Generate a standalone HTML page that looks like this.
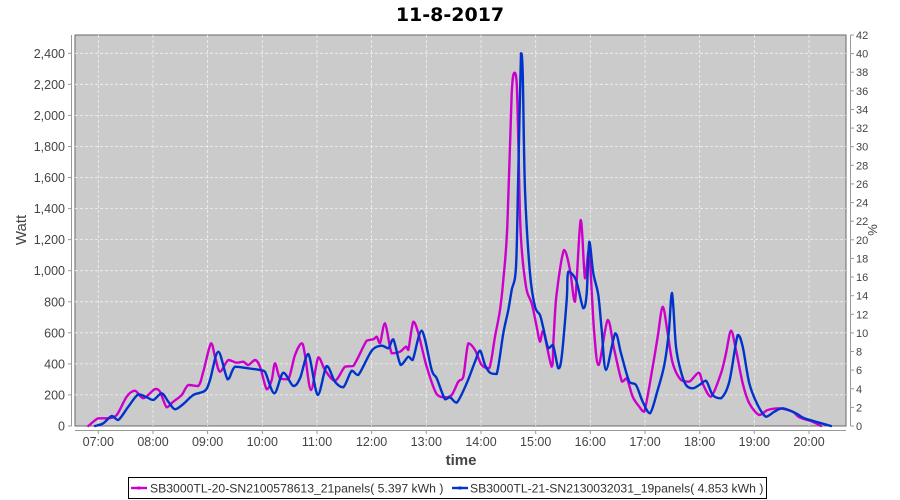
<!DOCTYPE html>
<html><head><meta charset="utf-8"><style>
html,body{margin:0;padding:0;background:#fff;}
svg{display:block;}
text{font-family:"Liberation Sans",sans-serif;}
</style></head><body>
<svg id="c" width="900" height="500" viewBox="0 0 900 500" xmlns="http://www.w3.org/2000/svg">
<rect x="0" y="0" width="900" height="500" fill="#fff"/>
<text x="450" y="21" text-anchor="middle" style="font-family:'DejaVu Sans',sans-serif;font-weight:bold;font-size:19px" fill="#000">11-8-2017</text>
<rect x="75" y="35" width="771" height="391" fill="#cbcbcb" stroke="#6a6a6a" stroke-width="1"/>
<g stroke="#f2f2f2" stroke-width="0.8" stroke-dasharray="3,2" fill="none">
<line x1="75" y1="394.9" x2="846" y2="394.9"/><line x1="75" y1="363.9" x2="846" y2="363.9"/><line x1="75" y1="332.8" x2="846" y2="332.8"/><line x1="75" y1="301.8" x2="846" y2="301.8"/><line x1="75" y1="270.7" x2="846" y2="270.7"/><line x1="75" y1="239.6" x2="846" y2="239.6"/><line x1="75" y1="208.6" x2="846" y2="208.6"/><line x1="75" y1="177.5" x2="846" y2="177.5"/><line x1="75" y1="146.5" x2="846" y2="146.5"/><line x1="75" y1="115.4" x2="846" y2="115.4"/><line x1="75" y1="84.3" x2="846" y2="84.3"/><line x1="75" y1="53.3" x2="846" y2="53.3"/>
<line x1="98.3" y1="35" x2="98.3" y2="426"/><line x1="153" y1="35" x2="153" y2="426"/><line x1="207.6" y1="35" x2="207.6" y2="426"/><line x1="262.3" y1="35" x2="262.3" y2="426"/><line x1="317" y1="35" x2="317" y2="426"/><line x1="371.6" y1="35" x2="371.6" y2="426"/><line x1="426.3" y1="35" x2="426.3" y2="426"/><line x1="481" y1="35" x2="481" y2="426"/><line x1="535.7" y1="35" x2="535.7" y2="426"/><line x1="590.3" y1="35" x2="590.3" y2="426"/><line x1="645" y1="35" x2="645" y2="426"/><line x1="699.7" y1="35" x2="699.7" y2="426"/><line x1="754.3" y1="35" x2="754.3" y2="426"/><line x1="809" y1="35" x2="809" y2="426"/>
</g>
<g stroke="#999" stroke-width="1" fill="none">
<line x1="71.5" y1="35" x2="71.5" y2="426"/>
<line x1="850.5" y1="35" x2="850.5" y2="426"/>
<line x1="75" y1="430.5" x2="846" y2="430.5"/>
</g>
<g stroke="#999" stroke-width="1">
<line x1="68" y1="426" x2="71.5" y2="426"/><line x1="68" y1="394.9" x2="71.5" y2="394.9"/><line x1="68" y1="363.9" x2="71.5" y2="363.9"/><line x1="68" y1="332.8" x2="71.5" y2="332.8"/><line x1="68" y1="301.8" x2="71.5" y2="301.8"/><line x1="68" y1="270.7" x2="71.5" y2="270.7"/><line x1="68" y1="239.6" x2="71.5" y2="239.6"/><line x1="68" y1="208.6" x2="71.5" y2="208.6"/><line x1="68" y1="177.5" x2="71.5" y2="177.5"/><line x1="68" y1="146.5" x2="71.5" y2="146.5"/><line x1="68" y1="115.4" x2="71.5" y2="115.4"/><line x1="68" y1="84.3" x2="71.5" y2="84.3"/><line x1="68" y1="53.3" x2="71.5" y2="53.3"/>
<line x1="98.3" y1="430.5" x2="98.3" y2="434"/><line x1="153" y1="430.5" x2="153" y2="434"/><line x1="207.6" y1="430.5" x2="207.6" y2="434"/><line x1="262.3" y1="430.5" x2="262.3" y2="434"/><line x1="317" y1="430.5" x2="317" y2="434"/><line x1="371.6" y1="430.5" x2="371.6" y2="434"/><line x1="426.3" y1="430.5" x2="426.3" y2="434"/><line x1="481" y1="430.5" x2="481" y2="434"/><line x1="535.7" y1="430.5" x2="535.7" y2="434"/><line x1="590.3" y1="430.5" x2="590.3" y2="434"/><line x1="645" y1="430.5" x2="645" y2="434"/><line x1="699.7" y1="430.5" x2="699.7" y2="434"/><line x1="754.3" y1="430.5" x2="754.3" y2="434"/><line x1="809" y1="430.5" x2="809" y2="434"/>
</g>
<g stroke="#999" stroke-width="1">
<line x1="850.5" y1="426" x2="854" y2="426"/><line x1="850.5" y1="407.4" x2="854" y2="407.4"/><line x1="850.5" y1="388.8" x2="854" y2="388.8"/><line x1="850.5" y1="370.1" x2="854" y2="370.1"/><line x1="850.5" y1="351.5" x2="854" y2="351.5"/><line x1="850.5" y1="332.9" x2="854" y2="332.9"/><line x1="850.5" y1="314.3" x2="854" y2="314.3"/><line x1="850.5" y1="295.7" x2="854" y2="295.7"/><line x1="850.5" y1="277.0" x2="854" y2="277.0"/><line x1="850.5" y1="258.4" x2="854" y2="258.4"/><line x1="850.5" y1="239.8" x2="854" y2="239.8"/><line x1="850.5" y1="221.2" x2="854" y2="221.2"/><line x1="850.5" y1="202.6" x2="854" y2="202.6"/><line x1="850.5" y1="183.9" x2="854" y2="183.9"/><line x1="850.5" y1="165.3" x2="854" y2="165.3"/><line x1="850.5" y1="146.7" x2="854" y2="146.7"/><line x1="850.5" y1="128.1" x2="854" y2="128.1"/><line x1="850.5" y1="109.5" x2="854" y2="109.5"/><line x1="850.5" y1="90.8" x2="854" y2="90.8"/><line x1="850.5" y1="72.2" x2="854" y2="72.2"/><line x1="850.5" y1="53.6" x2="854" y2="53.6"/><line x1="850.5" y1="35" x2="854" y2="35"/>
</g>
<g font-size="12.5" fill="#444" text-anchor="end">
<text x="65" y="430.5">0</text><text x="65" y="399.4">200</text><text x="65" y="368.4">400</text><text x="65" y="337.3">600</text><text x="65" y="306.3">800</text><text x="65" y="275.2">1,000</text><text x="65" y="244.1">1,200</text><text x="65" y="213.1">1,400</text><text x="65" y="182">1,600</text><text x="65" y="151">1,800</text><text x="65" y="119.9">2,000</text><text x="65" y="88.8">2,200</text><text x="65" y="57.8">2,400</text>
</g>
<g font-size="11" fill="#444" text-anchor="start">
<text x="856" y="430">0</text><text x="856" y="411.4">2</text><text x="856" y="392.8">4</text><text x="856" y="374.1">6</text><text x="856" y="355.5">8</text><text x="856" y="336.9">10</text><text x="856" y="318.3">12</text><text x="856" y="299.7">14</text><text x="856" y="281">16</text><text x="856" y="262.4">18</text><text x="856" y="243.8">20</text><text x="856" y="225.2">22</text><text x="856" y="206.6">24</text><text x="856" y="187.9">26</text><text x="856" y="169.3">28</text><text x="856" y="150.7">30</text><text x="856" y="132.1">32</text><text x="856" y="113.5">34</text><text x="856" y="94.8">36</text><text x="856" y="76.2">38</text><text x="856" y="57.6">40</text><text x="856" y="39">42</text>
</g>
<g font-size="12.5" fill="#444" text-anchor="middle">
<text x="98.3" y="446">07:00</text><text x="153" y="446">08:00</text><text x="207.6" y="446">09:00</text><text x="262.3" y="446">10:00</text><text x="317" y="446">11:00</text><text x="371.6" y="446">12:00</text><text x="426.3" y="446">13:00</text><text x="481" y="446">14:00</text><text x="535.7" y="446">15:00</text><text x="590.3" y="446">16:00</text><text x="645" y="446">17:00</text><text x="699.7" y="446">18:00</text><text x="754.3" y="446">19:00</text><text x="809" y="446">20:00</text>
</g>
<text x="461" y="465" text-anchor="middle" font-size="15" font-weight="bold" fill="#444">time</text>
<text transform="translate(26,230) rotate(-90)" text-anchor="middle" font-size="15" fill="#444">Watt</text>
<text transform="translate(877,230) rotate(-90)" text-anchor="middle" font-size="13" fill="#444">%</text>
<polyline class="s" fill="none" stroke="#cc00cc" stroke-width="2.4" stroke-linejoin="round" stroke-linecap="round" points="88.3,426 98.3,418.3 108.3,418.3 116.7,415 126.7,396.7 135,390.7 143.3,398.3 155,389 160,391.7 166.7,407.3 173.3,401.7 181.7,395 188.3,385 198.3,386 203.3,371.7 211,343.3 215,356.7 220,371.7 228.3,360 236.7,362.7 243.3,361.7 248.3,365 255,360 260,366.7 266.7,389.3 271.7,380 275,363.3 280,378.3 288.3,379.3 295,355 301.7,343.3 305,355 311,390 318.3,357.3 325,370 335,380.7 345,366.7 353.3,366 366.7,340.7 373.3,339.3 376.7,336.7 380,343.3 385,323.3 391.7,353.3 400,351.7 406,346.7 408.3,350 413.3,321.7 418.3,333.3 426.7,366.7 436.7,394.3 445,397.3 451.7,395 458.3,381.7 463.3,376.7 468.3,343.3 475,350 481.7,365 489.3,368.3 495,336.7 500,310 503.3,280 507.3,226.7 511.7,93.3 514.3,72.7 516.7,83.3 518.3,140 520.7,233.3 526,286.7 531.7,303.3 536.7,326.7 540,341.7 543.3,330.7 551.7,366.7 553.5,340 556.5,295 564,250 570,270 575,301.7 580.7,220 585,278.3 589,250 594,330 598.7,365 607.7,320 614.3,350 622,381.7 626.7,378.3 632.7,396.7 639.3,406.7 644.3,411.7 652.7,366.7 657.7,336.7 662.7,306.7 667.7,333.3 672.7,363.3 681,380 689.3,381.7 698.7,372.7 703.3,385 711,396.7 721,373.3 726,353.3 731,330.7 736,350 742.7,383.3 749.3,403.3 759.3,415 767.7,410 779.3,408.3 792.7,411.7 799.3,417.3 812.7,421.7 821,426"/>
<polyline class="s" fill="none" stroke="#0033cc" stroke-width="2.4" stroke-linejoin="round" stroke-linecap="round" points="95,426 103.3,423.3 111.7,416 118.3,420 128.3,406.7 138.3,394.3 146.7,397.3 153.3,400 161.7,393.3 168.3,401.7 175,409.3 183.3,404 193.3,395 205,390.7 210,380 218.3,351.7 227.7,379.3 235,366.7 248.3,368.3 260,370 265,371.7 274.3,393.3 283.3,372.7 293.3,386 300,378.3 308.3,354 317.7,395 326.7,366 335,381.7 343.3,387.3 351.7,370.7 358.3,375 371.7,350.7 381.7,345.7 388.3,348.3 393.3,339.3 400.7,365 408.3,356.7 412.7,360 421.7,330.7 431.7,370 436.7,378.3 445,399.3 450,397.3 456.7,402.7 466.7,383.3 475,361.7 480,350.7 485,365 490,372.7 496.7,374 503.3,333.3 508.3,310 511.7,290 516,266.7 518.3,173.3 521,53.3 522.7,73.3 525,190 530,273.3 535,306.7 540,315 543.3,328 548.3,348.3 553,345 558.3,368.3 561.7,356.7 566.7,300 568.3,271.7 576,280 583.3,308.3 586.7,293.3 589.3,241.7 593.3,273.3 598.3,295 601.7,330 606,370 615.3,333.3 621,353.3 629.3,381.7 636,385 642.7,401.7 650,413.3 657.7,390 664.3,365 668.7,333.3 672,293 676,346.7 681,371.7 686,385 692.7,388.3 699.3,385 706,380.7 712.7,395 721,398.3 729.3,381.7 737.7,335 742.7,346.7 749.3,383.3 757.7,405 766,416.7 774.3,411.7 782.7,408.3 796,413.3 804.3,418.3 819.3,422.7 831,426"/>
<rect x="128.5" y="477.5" width="638" height="21" fill="#fff" stroke="#000" stroke-width="1"/>
<line x1="131" y1="488" x2="147" y2="488" stroke="#cc00cc" stroke-width="2.4"/>
<rect x="137.5" y="486.5" width="3" height="3" fill="#cc00cc"/>
<text x="150" y="492.5" font-size="12.2" fill="#333">SB3000TL-20-SN2100578613_21panels( 5.397 kWh )</text>
<line x1="452" y1="488" x2="468" y2="488" stroke="#0033cc" stroke-width="2.4"/>
<rect x="458.5" y="486.5" width="3" height="3" fill="#0033cc"/>
<text x="470" y="492.5" font-size="12.2" fill="#333">SB3000TL-21-SN2130032031_19panels( 4.853 kWh )</text>
</svg>
<script>
(function(){
try{
var ns="http://www.w3.org/2000/svg";
var pls=document.querySelectorAll("polyline.s");
for(var k=0;k<pls.length;k++){
var pl=pls[k];
var pts=pl.getAttribute("points").trim().split(/\s+/).map(function(s){var a=s.split(",");return [parseFloat(a[0]),parseFloat(a[1])];});
var d="M"+pts[0][0]+","+pts[0][1];
for(var i=0;i<pts.length-1;i++){
var p0=pts[i>0?i-1:i],p1=pts[i],p2=pts[i+1],p3=pts[i+2<pts.length?i+2:i+1];
var t=0.16;
var c1x=p1[0]+(p2[0]-p0[0])*t,c1y=p1[1]+(p2[1]-p0[1])*t;
var c2x=p2[0]-(p3[0]-p1[0])*t,c2y=p2[1]-(p3[1]-p1[1])*t;
if(c1x>p2[0])c1x=p2[0];if(c2x<p1[0])c2x=p1[0];
var lo=Math.min(p1[1],p2[1]),hi=Math.max(p1[1],p2[1]);
c1y=Math.min(Math.max(c1y,lo),hi);c2y=Math.min(Math.max(c2y,lo),hi);
d+=" C"+c1x.toFixed(2)+","+c1y.toFixed(2)+" "+c2x.toFixed(2)+","+c2y.toFixed(2)+" "+p2[0]+","+p2[1];
}
var p=document.createElementNS(ns,"path");
p.setAttribute("d",d);
p.setAttribute("fill","none");
p.setAttribute("stroke",pl.getAttribute("stroke"));
p.setAttribute("stroke-width","2.4");
p.setAttribute("stroke-linejoin","round");
p.setAttribute("stroke-linecap","round");
pl.parentNode.replaceChild(p,pl);
}
}catch(e){}
})();
</script>
</body></html>
